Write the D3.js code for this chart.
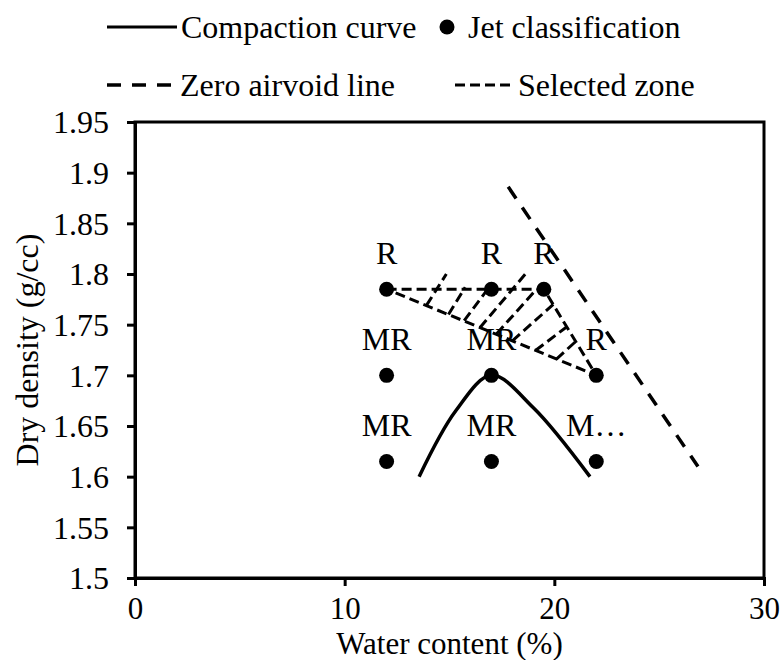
<!DOCTYPE html>
<html>
<head>
<meta charset="utf-8">
<script src="https://cdn.jsdelivr.net/npm/d3@7"></script>
<style>
  html, body { margin: 0; padding: 0; background: #fff; }
  svg text { font-family: "Liberation Serif", "Times New Roman", serif; fill: #000; }
</style>
</head>
<body>
<svg id="chart" width="782" height="660"></svg>
<script>
// Jet erosion test classification points (water content %, dry density g/cc, class)
const jetWater   = [12, 17, 19.5, 12, 17, 22, 12, 17, 22];
const jetDensity = [1.785, 1.785, 1.785, 1.70, 1.70, 1.70, 1.615, 1.615, 1.615];
const jetLabels  = ["R", "R", "R", "MR", "MR", "R", "MR", "MR", "M…"];

// Proctor compaction curve
const compWater   = [13.55, 15.3, 17.0, 19.0, 21.7];
const compDensity = [1.600, 1.665, 1.700, 1.668, 1.600];

// Zero air-void line
const zavWater   = [17.8, 26.85];
const zavDensity = [1.886, 1.610];

// Selected zone outline (closed triangle)
const zoneWater   = [12, 19.5, 22, 12];
const zoneDensity = [1.785, 1.785, 1.70, 1.785];

// Selected zone hatching: [w1, d1, w2, d2]
const hatchSegments = [
  [13.9, 1.769, 14.85, 1.800],
  [14.95, 1.760, 15.75, 1.787],
  [15.7, 1.754, 17.0, 1.790],
  [16.45, 1.747, 18.7, 1.802],
  [17.25, 1.741, 19.15, 1.785],
  [18.0, 1.734, 19.95, 1.770],
  [19.1, 1.7245, 20.6, 1.748],
  [20.1, 1.716, 21.0, 1.733]
];

const xTickValues = [0, 10, 20, 30];
const yTickValues = [1.5, 1.55, 1.6, 1.65, 1.7, 1.75, 1.8, 1.85, 1.9, 1.95];
const yTickLabels = ["1.5", "1.55", "1.6", "1.65", "1.7", "1.75", "1.8", "1.85", "1.9", "1.95"];

const legendItems = ["Compaction curve", "Jet classification", "Zero airvoid line", "Selected zone"];

const svg = d3.select("#chart");
const plot = { left: 135, right: 764, top: 122, bottom: 578 };

const x = d3.scaleLinear().domain([0, 30]).range([plot.left, plot.right]);
const y = d3.scaleLinear().domain([1.5, 1.95]).range([plot.bottom, plot.top]);

const FS = 32;
const FSX = 31;

// Plot frame
svg.append("rect")
  .attr("x", plot.left).attr("y", plot.top)
  .attr("width", plot.right - plot.left).attr("height", plot.bottom - plot.top)
  .attr("fill", "none").attr("stroke", "#000").attr("stroke-width", 3);

// Axes
const xAxis = d3.axisBottom(x).tickValues(xTickValues).tickSize(8).tickFormat(d3.format("d"));
const gx = svg.append("g").attr("transform", `translate(0,${plot.bottom})`).call(xAxis);
const yAxis = d3.axisLeft(y).tickValues(yTickValues).tickSize(8)
  .tickFormat((d, i) => yTickLabels[i]);
const gy = svg.append("g").attr("transform", `translate(${plot.left},0)`).call(yAxis);

[gx, gy].forEach(g => {
  g.select(".domain").attr("stroke", "#000").attr("stroke-width", 3);
  g.selectAll(".tick line").attr("stroke", "#000").attr("stroke-width", 3);
  g.selectAll(".tick text")
    .attr("font-family", "Liberation Serif, Times New Roman, serif")
    .attr("font-size", FS).attr("fill", "#000");
});
gx.selectAll(".tick text").attr("font-size", FSX).attr("dy", null).attr("y", 41);
gy.selectAll(".tick text").attr("x", -26).attr("dy", "0.34em");

// Axis titles
svg.append("text")
  .attr("x", (plot.left + plot.right) / 2).attr("y", 654)
  .attr("text-anchor", "middle").attr("font-size", FSX)
  .text("Water content (%)");
svg.append("text")
  .attr("transform", `translate(38,${(plot.top + plot.bottom) / 2}) rotate(-90)`)
  .attr("text-anchor", "middle").attr("font-size", FS)
  .text("Dry density (g/cc)");

const line = d3.line().x(d => x(d[0])).y(d => y(d[1]));

// Selected zone hatching
svg.append("g").selectAll("line")
  .data(hatchSegments).join("line")
  .attr("x1", d => x(d[0])).attr("y1", d => y(d[1]))
  .attr("x2", d => x(d[2])).attr("y2", d => y(d[3]))
  .attr("stroke", "#000").attr("stroke-width", 3)
  .attr("stroke-dasharray", "10,5");

// Selected zone outline
svg.append("path")
  .datum(zoneWater.map((w, i) => [w, zoneDensity[i]]))
  .attr("d", line)
  .attr("fill", "none").attr("stroke", "#000").attr("stroke-width", 3)
  .attr("stroke-dasharray", "10,5");

// Zero air-void line
svg.append("path")
  .datum(zavWater.map((w, i) => [w, zavDensity[i]]))
  .attr("d", line)
  .attr("fill", "none").attr("stroke", "#000").attr("stroke-width", 3.5)
  .attr("stroke-dasharray", "14,11");

// Compaction curve (smoothed)
const smooth = d3.line().x(d => x(d[0])).y(d => y(d[1])).curve(d3.curveCatmullRom.alpha(0.5));
svg.append("path")
  .datum(compWater.map((w, i) => [w, compDensity[i]]))
  .attr("d", smooth)
  .attr("fill", "none").attr("stroke", "#000").attr("stroke-width", 3.5);

// Jet classification points and labels
const jet = jetWater.map((w, i) => ({ w, d: jetDensity[i], label: jetLabels[i] }));
svg.append("g").selectAll("circle")
  .data(jet).join("circle")
  .attr("cx", d => x(d.w)).attr("cy", d => y(d.d)).attr("r", 7.5)
  .attr("fill", "#000");
svg.append("g").selectAll("text")
  .data(jet).join("text")
  .attr("x", d => x(d.w)).attr("y", d => y(d.d) - 25)
  .attr("text-anchor", "middle").attr("font-size", FS)
  .text(d => d.label);

// Legend
const lg = svg.append("g");
// row 1
lg.append("line").attr("x1", 107).attr("x2", 177).attr("y1", 27).attr("y2", 27)
  .attr("stroke", "#000").attr("stroke-width", 3);
lg.append("text").attr("x", 181).attr("y", 27).attr("dy", "0.34em").attr("font-size", FS)
  .text(legendItems[0]);
lg.append("circle").attr("cx", 447).attr("cy", 27).attr("r", 7.5).attr("fill", "#000");
lg.append("text").attr("x", 468).attr("y", 27).attr("dy", "0.34em").attr("font-size", FS)
  .text(legendItems[1]);
// row 2
lg.append("line").attr("x1", 107).attr("x2", 176).attr("y1", 85).attr("y2", 85)
  .attr("stroke", "#000").attr("stroke-width", 3.5).attr("stroke-dasharray", "14,11");
lg.append("text").attr("x", 180).attr("y", 85).attr("dy", "0.34em").attr("font-size", FS)
  .text(legendItems[2]);
lg.append("line").attr("x1", 455).attr("x2", 515).attr("y1", 85).attr("y2", 85)
  .attr("stroke", "#000").attr("stroke-width", 3).attr("stroke-dasharray", "10,5");
lg.append("text").attr("x", 518).attr("y", 85).attr("dy", "0.34em").attr("font-size", FS)
  .text(legendItems[3]);
</script>
</body>
</html>
